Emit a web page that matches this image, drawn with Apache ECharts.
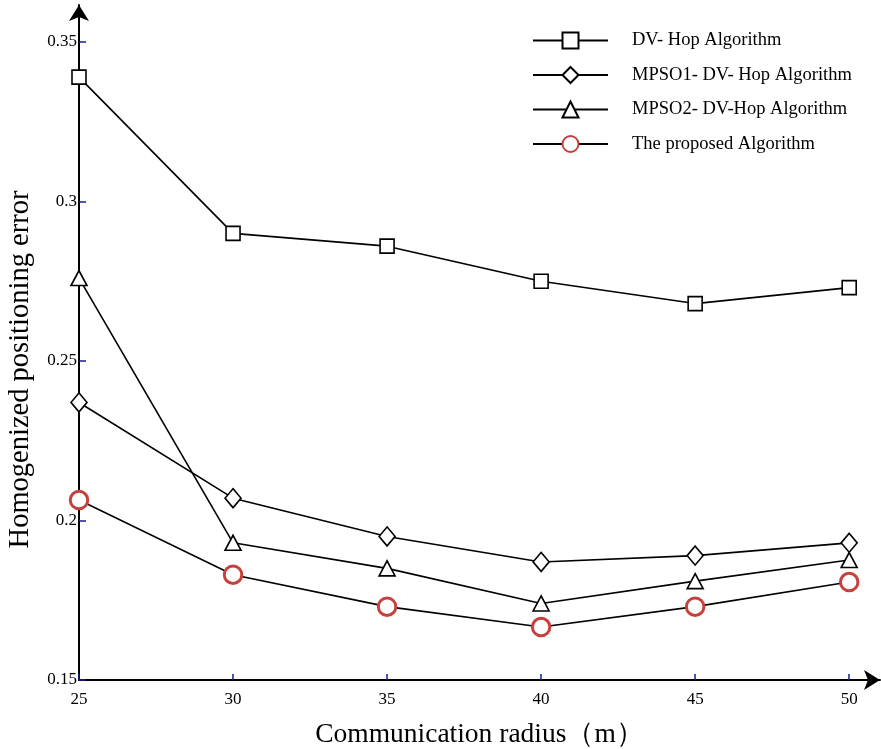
<!DOCTYPE html>
<html>
<head>
<meta charset="utf-8">
<script src="https://cdn.jsdelivr.net/npm/echarts@6/dist/echarts.min.js"></script>
<style>
html,body{margin:0;padding:0;background:#fff;}
#c{width:881px;height:749px;}
</style>
</head>
<body>
<div id="c"></div>
<script>
const radius = [25, 30, 35, 40, 45, 50];
const dvHop = [0.339, 0.290, 0.286, 0.275, 0.268, 0.273];
const mpso1 = [0.237, 0.207, 0.195, 0.187, 0.189, 0.193];
const mpso2 = [0.276, 0.193, 0.185, 0.174, 0.181, 0.1876];
const proposed = [0.2064, 0.183, 0.173, 0.1666, 0.173, 0.1807];
const xTicks = [25, 30, 35, 40, 45, 50];
const yTicks = [0.15, 0.2, 0.25, 0.3, 0.35];
const seriesNames = ['DV- Hop Algorithm', 'MPSO1- DV- Hop Algorithm', 'MPSO2- DV-Hop Algorithm', 'The proposed Algorithm'];

const serif = '"Liberation Serif", "Times New Roman", serif';
const pairs = arr => radius.map((r, i) => [r, arr[i]]);

const baseSeries = (name, data, symbol, size, border, bw) => ({
  name: name,
  type: 'line',
  data: pairs(data),
  symbol: symbol,
  symbolSize: size,
  showAllSymbol: true,
  clip: false,
  lineStyle: { color: '#000', width: 1.6 },
  itemStyle: { color: '#fff', borderColor: border, borderWidth: bw, opacity: 1 },
  emphasis: { disabled: true },
  z: 3
});

const chart = echarts.init(document.getElementById('c'), null, { renderer: 'canvas' });
chart.setOption({
  backgroundColor: '#fff',
  animation: false,
  grid: { left: 79, right: 1, top: 5, bottom: 69, containLabel: false, outerBoundsMode: 'none' },
  legend: {
    orient: 'vertical',
    left: 527,
    top: 26,
    itemWidth: 75,
    itemHeight: 20,
    itemGap: 15.5,
    textStyle: { fontFamily: serif, fontSize: 18.5, color: '#000', padding: [0, 0, 0, 19] },
    data: seriesNames
  },
  xAxis: {
    type: 'value',
    min: 25,
    max: 51,
    interval: 5,
    name: 'Communication radius（m）',
    nameLocation: 'middle',
    nameGap: 41,
    nameTextStyle: { fontFamily: serif, fontSize: 27.5, color: '#000' },
    axisLine: { show: true, onZero: false, symbol: ['none', 'arrow'], symbolSize: [15, 16], lineStyle: { color: '#000', width: 2 } },
    axisTick: { show: true, inside: true, length: 6, customValues: xTicks, lineStyle: { color: '#1a1a9a', width: 1.5 } },
    axisLabel: { customValues: xTicks, margin: 11, fontFamily: serif, fontSize: 17, color: '#000' },
    splitLine: { show: false }
  },
  yAxis: {
    type: 'value',
    min: 0.15,
    max: 0.3616,
    interval: 0.05,
    name: 'Homogenized positioning error',
    nameLocation: 'middle',
    nameGap: 44,
    nameTextStyle: { fontFamily: serif, fontSize: 28.5, color: '#000', padding: [0, 54, 0, 0] },
    axisLine: { show: true, onZero: false, symbol: ['none', 'arrow'], symbolSize: [15, 16], lineStyle: { color: '#000', width: 2 } },
    axisTick: { show: true, inside: true, length: 7, customValues: yTicks, lineStyle: { color: '#1a1a9a', width: 1.5 } },
    axisLabel: { customValues: yTicks, margin: 2, fontFamily: serif, fontSize: 17, color: '#000' },
    splitLine: { show: false }
  },
  series: [
    baseSeries(seriesNames[0], dvHop, 'rect', 14, '#000', 1.6),
    baseSeries(seriesNames[1], mpso1, 'diamond', [16, 19], '#000', 1.6),
    baseSeries(seriesNames[2], mpso2, 'triangle', [16, 15], '#000', 1.6),
    baseSeries(seriesNames[3], proposed, 'circle', 17.5, '#c8403c', 3)
  ]
});
</script>
</body>
</html>
